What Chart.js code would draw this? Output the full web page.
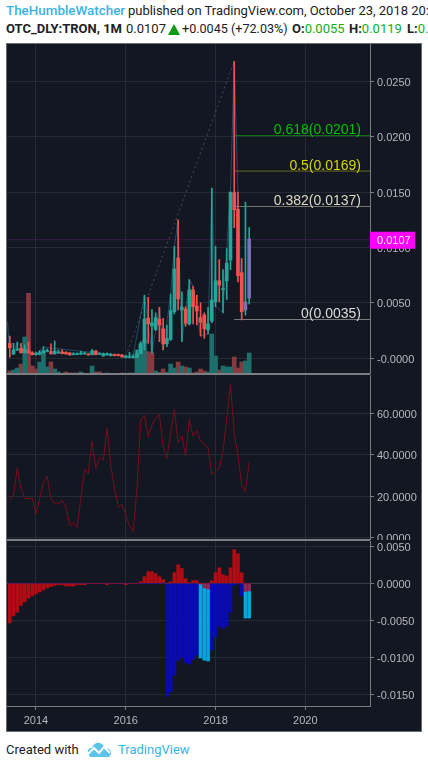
<!DOCTYPE html>
<html>
<head>
<meta charset="utf-8">
<script src="https://cdn.jsdelivr.net/npm/chart.js@4/dist/chart.umd.min.js"></script>
<style>
html,body{margin:0;padding:0;background:#fff;width:428px;height:768px;overflow:hidden}
.txt{position:absolute;white-space:nowrap;font-family:Roboto,sans-serif;font-size:13px;line-height:18px;color:#222}
.blue{color:#3bb3e4}.grn{color:#0fae1a}b{font-weight:700}
#frame{position:absolute;left:6px;top:43px;width:416px;height:689px;box-sizing:border-box;border:1px solid #6a6c72;background:#131722}
canvas{position:absolute;left:7px}
.sep{position:absolute;left:7px;width:363px;height:2px;background:#7c7e84}
</style>
</head>
<body>
<div class="txt blue" style="left:6px;top:2px;font-size:13.4px;font-weight:500">TheHumbleWatcher</div>
<div class="txt" style="left:128px;top:2px;letter-spacing:-.03px">published on TradingView.com, October 23, 2018 20:54 UTC</div>
<div class="txt" style="left:6px;top:20px"><b>OTC_DLY:TRON, 1M</b></div>
<div class="txt" style="left:126px;top:20px">0.0107</div>
<svg style="position:absolute;left:168px;top:24px" width="12" height="11"><path d="M6 0L12 11H0Z" fill="#0a9c14"/></svg>
<div class="txt" style="left:182px;top:20px;font-size:12.6px">+0.0045 (+72.03%)</div>
<div class="txt" style="left:292px;top:20px"><b>O:</b><span class="grn">0.0055</span></div>
<div class="txt" style="left:349px;top:20px"><b>H:</b><span class="grn">0.0119</span></div>
<div class="txt" style="left:407px;top:20px"><b>L:</b><span class="grn">0.0035</span></div>
<div id="frame"></div>
<canvas id="priceChart" width="415" height="330" style="top:44px"></canvas>
<canvas id="rsiChart" width="415" height="165" style="top:375px"></canvas>
<canvas id="histChart" width="415" height="190" style="top:541px"></canvas>
<div class="sep" style="top:373px"></div>
<div class="sep" style="top:539px"></div>
<div class="txt" style="left:6px;top:741px">Created with</div>
<svg style="position:absolute;left:87px;top:741px" width="25" height="16" viewBox="0 0 25 16"><path d="M1 12C0 9 2 7 5 7C6 3 10 1 13 2C16 3 17 5 18 7C22 7 25 10 24 13L22 16H3Z" fill="#5cc3ea"/><path d="M1 13L7 7L12 12L17 6L23 12" fill="none" stroke="#fff" stroke-width="2"/></svg>
<div class="txt blue" style="left:118px;top:741px">TradingView</div>
<script>
// months counted from Jan 2014, first bar is Jun 2013
const firstMonth = -7
const xMin = -7.75, xMax = 89.3
const yearTicks = [0, 24, 48, 72]
const yearLabels = ['2014', '2016', '2018', '2020']

const opens = [.00135,.0004,.00075,.0009,.0005,.0007,.0005,.00033,.00036,.0005,
  .00063,.0006,.00039,.00048,.00057,.00054,.00048,.00033,.00033,.00039,
  .00039,.00039,.00033,.00066,.00036,.00021,.0003,.00024,.00033,.00033,
  .0003,.00006,.00006,.00006,.00009,.00045,.00135,.00364,.0029,.0026,
  .00352,.00265,.0013,.0017,.0042,.00905,.00436,.00445,.0031,.00617,
  .0047,.00367,.0039,.00256,.00337,.0051,.007,.0062,.00698,.00887,
  .01495,.01345,.00773,.00436,.00544]
const closes = [.00096,.00075,.00084,.0005,.0008,.0005,.00033,.00045,.0005,.0007,
  .00072,.00039,.00066,.00054,.00042,.00039,.0003,.00039,.00039,.00042,
  .00042,.0003,.00066,.00033,.00045,.00039,.00042,.00036,.00024,.00024,
  .00012,.00018,.00015,.00015,.00042,.0013,.00355,.0031,.0032,.00367,
  .003,.0013,.0018,.0043,.00806,.00535,.00463,.00316,.00617,.00466,
  .00427,.00325,.00265,.0031,.00526,.007,.0066,.00625,.00857,.015,
  .0134,.00745,.0042,.00508,.01077]
const highs = [.002,.00135,.00147,.00135,.0012,.00147,.0006,.00057,.0007,.00105,
  .00084,.0013,.00156,.00075,.00078,.0006,.00054,.00051,.00048,.00066,
  .00057,.00045,.00081,.0007,.00051,.00048,.00048,.00045,.00039,.00039,
  .00036,.00027,.00054,.00033,.00075,.0015,.0057,.0055,.0044,.0041,
  .0046,.0036,.003,.0058,.0101,.0125,.006,.00466,.0071,.0065,
  .0057,.005,.0041,.0046,.01537,.0101,.0089,.008,.0099,.015,
  .0268,.015,.009,.0141,.0118]
const lows = [.0001,.00033,.00069,.00045,.00045,.00045,.0003,.00027,.0003,.00045,
  .00057,.00039,.00039,.00045,.00039,.00036,.00027,.0003,.0003,.00033,
  .00036,.00027,.0003,.0003,.00033,.00018,.00027,.00021,.00021,.00021,
  .00009,.00003,.00003,.00003,.00006,.0004,.00075,.00135,.00045,.0025,
  .0015,.00075,.00105,.0016,.004,.00436,.0015,.0029,.003,.0031,
  .003,.002,.0018,.0022,.0032,.00466,.0051,.0041,.0053,.008,
  .0118,.0069,.00346,.0039,.0049]

const volumeUp = [0,12,18,0,111,0,0,0,36,66,21,0,15,6,0,0,0,0,0,6,
  0,0,24,0,0,0,3,0,0,0,0,0,3,3,72,92,102,0,0,9,
  0,0,5,30,18,0,24,0,18,0,0,0,0,6,120,54,0,24,21,21,
  0,0,0,39,63]
const volumeDown = [9,0,0,30,0,242,24,15,0,0,0,36,0,0,0,6,3,3,3,0,
  0,2,0,6,6,0,0,0,0,0,3,0,0,0,0,0,0,67,64,0,
  5,15,0,0,0,36,0,21,0,3,6,15,9,0,0,0,12,0,0,0,
  51,18,36,0,0]

const zigMonths = [-7.6,-7,-6,-5,-4,-3,-2,0,2,13,24,26,29,31,33,34,36,37,38,39,41,42,44,46,47,48,50,51,52,53,54,55]
const zigValues = [.0033,.00015,.0006,.00141,.0011,.0007,.0005,.0004,.001,.0006,.0002,.0003,.0057,.00045,.0046,.00075,.0058,.0101,.0125,.0015,.0071,.0065,.002,.0022,.0153,.0047,.0041,.0099,.015,.0268,.015,.0035]

const priceTicks = [.025, .02, .015, .01, .005, 0]
const priceTickLabels = ['0.0250', '0.0200', '0.0150', '0.0100', '0.0050', '-0.0000']
const lastPrice = 0.0107
const lastPriceLabel = '0.0107'
const fibLevels = [.0201, .0169, .0137, .0035]
const fibLabels = ['0.618(0.0201)', '0.5(0.0169)', '0.382(0.0137)', '0(0.0035)']
const fibLineColors = ['#0d7a0f', '#6e6e1f', '#77756a', '#7c7c7c']
const fibTextColors = ['#00bf00', '#d6d600', '#dcd8c4', '#dcdcdc']
const fibStartMonth = 53
const trendMonths = [24, 53]
const trendValues = [.0002, .0268]

const rsiValues = [18.4,20.6,33.5,23.8,18.9,18.9,18.9,11.2,18.9,26.7,
  29.6,18.6,16.3,16.3,18,15,5.7,7,4.7,18.9,
  33,30.9,46.8,33.5,39,37.4,52.9,35.1,23.8,14.7,
  16,10.8,5.7,2.8,23.8,57,59.2,49,54.5,57.8,
  59.7,43.9,38.3,50.5,62.1,46.1,49.2,39.6,57.3,49,
  51.8,46.8,44.8,43.7,30.6,32.2,33.7,41.6,57.8,74.4,
  50.5,40,25.4,22.2,36.4]
const rsiTicks = [60, 40, 20, 0]

const histRed = [-.00536,-.0044,-.0039,-.003,-.0025,-.002,-.0017,-.00144,-.00117,-.0009,
  -.00063,-.00045,-.0003,-.00018,-.0002,-.00036,-.00036,-.00036,-.00018,-.00018,
  -.00018,0,0,0,0,0,-.00018,0,0,0,
  0,-.00018,0,0,0,.00022,.0009,.00157,.00157,.0013,
  .0009,.0005,0,.00022,.00144,.0025,.002,.00063,.0001,.00036,
  .00036,0,0,0,.00036,.00144,.0021,.00117,.001,.0021,
  .00455,.004,.00144,0,0]
const histBlue = [0,0,0,0,0,0,0,0,0,0,
  0,0,0,0,0,0,0,0,0,0,
  0,0,0,0,0,0,0,0,0,0,
  0,0,0,0,0,0,0,0,0,0,
  0,0,-.01527,-.01464,-.01243,-.0104,-.01,-.01067,-.0109,-.01027,
  -.0097,0,0,0,-.009,-.0072,-.0058,-.0061,-.0058,-.0039,
  -.00027,0,-.00167,0,0]
const cyanMonths = [44, 45, 46, 56, 57]
const cyanTops = [-.00018, -.0007, -.00085, -.0012, -.0011]
const cyanBottoms = [-.0101, -.0104, -.0105, -.0047, -.0047]
const histTicks = [.005, 0, -.005, -.01, -.015]

const gridColor = '#252a35'
const axisColor = '#787b80'
const labelColor = '#b6b8bd'
const months = opens.map((v, i) => firstMonth + i)
const toPoints = (xs, ys) => xs.map((x, i) => ({x: x, y: ys[i]}))

const xScale = (showLabels) => ({
  type: 'linear', min: xMin, max: xMax, offset: false,
  afterBuildTicks: s => { s.ticks = yearTicks.map(v => ({value: v})) },
  afterFit: s => { s.height = showLabels ? 25 : 0; s.paddingLeft = 0; s.paddingRight = 0 },
  border: {display: showLabels, color: axisColor},
  grid: {color: gridColor, tickColor: axisColor, tickLength: 4, drawTicks: showLabels, offset: false},
  ticks: {
    display: showLabels, autoSkip: false, maxRotation: 0, color: labelColor, padding: 4,
    font: {family: 'Arial, "Liberation Sans"', size: 11},
    callback: (v, i) => yearLabels[i]
  }
})
const yScale = (min, max, ticks, fmt) => ({
  position: 'right', min: min, max: max,
  afterBuildTicks: s => { s.ticks = ticks.map(v => ({value: v})) },
  // labels near the panel edge must not shrink the plot area
  afterFit: s => { s.width = 52; s.paddingTop = 0; s.paddingBottom = 0 },
  border: {color: axisColor},
  grid: {color: gridColor, tickColor: axisColor, tickLength: 4},
  ticks: {autoSkip: false, color: labelColor, padding: 3, labelOffset: 1.5, font: {family: 'Arial, "Liberation Sans"', size: 11}, callback: fmt}
})
const flat = {animation: false, responsive: false, layout: {padding: 0}}

// fib labels and the last price tag sit on top of the marks
const priceOverlay = {
  id: 'priceOverlay',
  afterDraw(chart) {
    const c = chart.ctx, y = chart.scales.y, a = chart.chartArea
    c.save()
    c.font = '14px Arial, "Liberation Sans"'
    c.textAlign = 'right'
    c.textBaseline = 'bottom'
    fibLevels.forEach((v, i) => {
      c.fillStyle = fibTextColors[i]
      c.fillText(fibLabels[i], 354, y.getPixelForValue(v) + 2)
    })
    const py = y.getPixelForValue(lastPrice)
    c.fillStyle = '#ff00ff'
    c.fillRect(a.right, py - 8, 45, 17)
    c.fillStyle = '#fff'
    c.font = '11px Arial, "Liberation Sans"'
    c.textAlign = 'left'
    c.textBaseline = 'middle'
    c.fillText(lastPriceLabel, a.right + 7, py + 1)
    c.restore()
  }
}

const lineDs = (data, color, width, order, extra) => Object.assign({
  type: 'line', data: data, borderColor: color, borderWidth: width, pointRadius: 0, tension: 0, order: order, yAxisID: 'y'
}, extra)

const isFlagged = i => i >= opens.length - 2
const upColor = '#26a69a', downColor = '#ef5350', flaggedColor = '#7a72b8'

new Chart('priceChart', {
  type: 'bar',
  data: {datasets: [
    lineDs(toPoints(trendMonths, trendValues), 'rgba(125,130,140,.5)', 1, 6, {borderDash: [2, 3]}),
    lineDs(toPoints([xMin, xMax], [lastPrice, lastPrice]), 'rgba(140,40,140,.3)', 1, 5),
    lineDs(toPoints(zigMonths, zigValues), 'rgba(52,125,165,.5)', 1, 3),
    {
      data: toPoints(months, months.map((m, i) => [lows[i], highs[i]])),
      backgroundColor: months.map((m, i) => closes[i] >= opens[i] ? upColor : downColor),
      barThickness: 1, grouped: false, order: 2, yAxisID: 'y'
    },
    {
      data: toPoints(months, months.map((m, i) => [opens[i], closes[i]])),
      backgroundColor: months.map((m, i) => isFlagged(i) ? flaggedColor : closes[i] >= opens[i] ? upColor : downColor),
      barThickness: 3, minBarLength: 1, grouped: false, order: 1, yAxisID: 'y'
    },
    {data: toPoints(months, volumeUp), backgroundColor: '#1e6f6c', barThickness: 4, grouped: false, order: 7, yAxisID: 'vol'},
    {data: toPoints(months, volumeDown), backgroundColor: '#853a40', barThickness: 4, grouped: false, order: 7, yAxisID: 'vol'},
    ...fibLevels.map((v, i) => lineDs(toPoints([fibStartMonth, xMax], [v, v]), fibLineColors[i], 1, 4))
  ]},
  options: Object.assign({}, flat, {
    plugins: {legend: {display: false}, tooltip: {enabled: false}},
    scales: {
      x: xScale(false),
      y: yScale(-.00142, .02837, priceTicks, (v, i) => priceTickLabels[i]),
      vol: {display: false, min: 0, max: 990}
    }
  }),
  plugins: [priceOverlay]
})

new Chart('rsiChart', {
  type: 'line',
  data: {datasets: [lineDs(toPoints(months, rsiValues), '#7d0c1c', 1, 1)]},
  options: Object.assign({}, flat, {
    plugins: {legend: {display: false}, tooltip: {enabled: false}},
    scales: {x: xScale(false), y: yScale(-1.3, 78.8, rsiTicks, v => v.toFixed(4))}
  })
})

const histBar = (data, color, order) => ({data: data, backgroundColor: color, barThickness: 3, grouped: false, order: order})
new Chart('histChart', {
  type: 'bar',
  data: {datasets: [
    lineDs(toPoints([xMin, xMax], [0, 0]), '#3a3e48', 1, 5),
    histBar(toPoints(months, histBlue), '#0a0ab4', 2),
    histBar(toPoints(months, histRed), '#b00c14', 1),
    histBar(toPoints(cyanMonths, cyanTops.map((v, i) => [v, cyanBottoms[i]])), '#00a6dc', 1),
    histBar(toPoints(cyanMonths, cyanTops.map(v => [0, v])), '#8a2a55', 1)
  ]},
  options: Object.assign({}, flat, {
    plugins: {legend: {display: false}, tooltip: {enabled: false}},
    scales: {x: xScale(true), y: yScale(-.01658, .00572, histTicks, v => v.toFixed(4))}
  })
})
</script>
</body>
</html>
